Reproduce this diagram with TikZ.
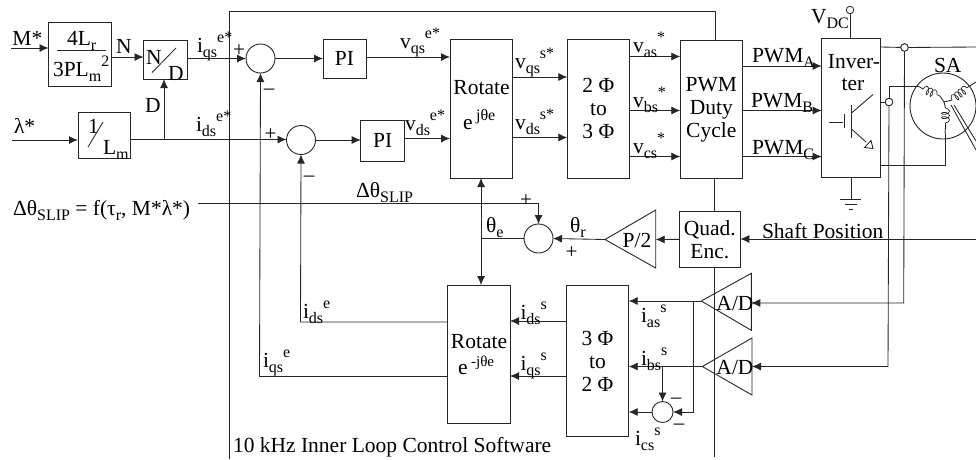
\documentclass[tikz,border=0pt]{standalone}
\usepackage{fontspec}
\setmainfont{Liberation Serif}
\usetikzlibrary{arrows.meta,calc,decorations.pathmorphing}
\newcommand\lsub[1]{\raisebox{-5pt}{\fontsize{16}{16}\selectfont #1}}
\newcommand\lsup[1]{\raisebox{10pt}{\fontsize{16}{16}\selectfont #1}}
\tikzset{
 x=1pt,y=-1pt,
 wire/.style={line width=0.85pt,draw=black!85},
 arr/.style={wire,-{Latex[length=9pt,width=8pt]}},
 blk/.style={draw=black!85,line width=0.9pt,inner sep=0pt,outer sep=0pt,align=center,font=\fontsize{21.5}{23}\selectfont},
 sumr/.style={circle,draw=black!85,line width=0.9pt,minimum size=29pt,inner sep=0pt,outer sep=0pt},
 term/.style={circle,draw=black!85,line width=0.8pt,fill=white,minimum size=7.5pt,inner sep=0pt,outer sep=0pt},
 lab/.style={inner sep=0pt,outer sep=0pt,anchor=base west,font=\fontsize{21.5}{23}\selectfont},
 sgn/.style={inner sep=0pt,font=\fontsize{21}{21}\selectfont},
 coilw/.style={wire,line width=0.7pt,decorate,decoration={coil,aspect=0.5,segment length=4.4pt,amplitude=4pt}},
}
\begin{document}
\begin{tikzpicture}
\useasboundingbox (0,0) rectangle (976,459);
% frame
\coordinate (fbl) at (229,459);
\coordinate (ftl) at (229,11.5);
\coordinate (ftr) at (715,11.5);
% blocks
\node[blk,minimum width=62.5,minimum height=64] (gain) at (79.75,54) {};
\node[blk,minimum width=43.5,minimum height=38.5] (nd) at (165.25,59.75) {};
\node[blk,minimum width=52,minimum height=46.5] (ol) at (104,135.25) {};
\node[blk,minimum width=43,minimum height=39] (pia) at (344.5,58.5) {PI};
\node[blk,minimum width=44,minimum height=40.5] (pib) at (382.7,140.75) {PI};
\node[blk,minimum width=62.5,minimum height=138.5] (rota) at (481.25,108.75) {};
\node[blk,minimum width=62.2,minimum height=138.5] (ttt) at (598.4,108.75) {2 Φ\\to\\3 Φ};
\node[blk,minimum width=62,minimum height=138] (pwm) at (711.3,109.5) {PWM\\Duty\\Cycle};
\node[blk,minimum width=59,minimum height=139] (inv) at (851.2,107.5) {};
\node[blk,minimum width=61,minimum height=56.7] (quad) at (709.8,239.35) {Quad.\\Enc.};
\node[blk,minimum width=62.3,minimum height=138.7] (rotb) at (478.85,354.35) {};
\node[blk,minimum width=62.4,minimum height=151.4] (tth) at (597.5,361) {3 Φ\\to\\2 Φ};
% summers
\node[sumr] (sa) at (260.5,58.5) {};
\node[sumr] (sb) at (301,140) {};
\node[sumr] (sc) at (538.5,238.5) {};
\node[sumr,minimum size=21pt] (sd) at (662.5,412) {};
% triangles
\coordinate (ptip) at (605,239.5); \coordinate (pr) at (655.7,239.5);
\draw[blk] (ptip) -- (655.7,210) -- (655.7,268) -- cycle;
\node[lab,anchor=center] (pl) at (637,240) {P/2};
\coordinate (atip) at (701.3,301); \coordinate (ar) at (751.3,303);
\draw[blk] (atip) -- (751.3,273.3) -- (751.3,330.3) -- cycle;
\node[lab,anchor=center] (al) at (735,303) {A/D};
\coordinate (btip) at (702.3,366.5); \coordinate (br) at (752,366.5);
\draw[blk] (btip) -- (752,338) -- (752,395) -- cycle;
\node[lab,anchor=center] (bl) at (735,367) {A/D};
% frame wires
\draw[wire] (fbl) -- (ftl) -- (ftr) -- (pwm.north -| ftr);
\draw[wire] (pwm.south -| quad.north) ++(4.5,0) -- ++(0,32);
\coordinate (qbot) at (714.5,457);
\draw[wire] (quad.south -| qbot) -- (qbot);
% inputs
\coordinate (mi) at (11,48);\coordinate (li) at (12,140);
\draw[arr] (mi) -- (mi -| gain.west);
\draw[arr] (gain.east |- 0,57) -- (nd.west |- 0,57);
\draw[arr] (nd.east |- 0,58.5) -- (sa.west);
\draw[arr] (li) -- (li -| ol.west);
\draw[arr] (ol.east |- 0,139.5) -- (sb.west |- 0,139.5);
\draw[arr] (164,139.5) -- (nd.south -| 164,0);
\draw[arr] (sa.east) -- (pia.west);
\draw[arr] (pia.east |- 0,57) -- (rota.west |- 0,57);
\draw[arr] (sb.east) -- (pib.west |- sb.east);
\draw[arr] (pib.east |- 0,138.5) -- (rota.west |- 0,138.5);
\draw[arr] (rota.east |- 0,77) -- (ttt.west |- 0,77);
\draw[arr] (rota.east |- 0,137.5) -- (ttt.west |- 0,137.5);
\draw[arr] (ttt.east |- 0,56.5) -- (pwm.west |- 0,56.5);
\draw[arr] (ttt.east |- 0,110.5) -- (pwm.west |- 0,110.5);
\draw[arr] (ttt.east |- 0,156.5) -- (pwm.west |- 0,156.5);
\draw[arr] (pwm.east |- 0,66) -- (inv.west |- 0,66);
\draw[arr] (pwm.east |- 0,110.5) -- (inv.west |- 0,110.5);
\draw[arr] (pwm.east |- 0,156.5) -- (inv.west |- 0,156.5);
% feedback
\draw[arr] (rotb.west |- 0,376.5) -- (259.5,376.5) -- (sa.south);
\draw[arr] (rotb.west |- 0,322) -- (300.5,322) -- (sb.south);
\draw[arr] (198,203) -- (538.5,203) -- (sc.north);
\draw[arr] (sc.west -| 481,0) -- (481,0 |- rota.south);
\draw[arr] (sc.west -| 481,0) -- (481,0 |- rotb.north);
\draw[wire] (sc.west) -- (481,238.5);
\draw[arr] (ptip) -- (sc.east);
\draw[arr] (quad.west) -- (pr);
\coordinate (sp) at (976,239);
\draw[arr] (sp) -- (quad.east |- sp);
\draw[arr] (tth.west |- 0,321) -- (rotb.east |- 0,321);
\draw[arr] (tth.west |- 0,376) -- (rotb.east |- 0,376);
\draw[arr] (atip) -- (tth.east |- atip);
\draw[arr] (btip) -- (tth.east |- btip);
\draw[arr] (693.3,301) -- (693.3,412) -- (sd.east);
\draw[arr] (sd.north |- btip) -- (sd.north);
\draw[arr] (sd.west) -- (tth.east |- sd.west);
\draw[wire] (inv.east |- 0,102) -- (889,102);
% right side
\node[term] (vdc) at (850,10) {};
\draw[wire] (vdc) -- (inv.north -| vdc);
\coordinate (gnd) at (851,199);
\draw[wire] (inv.south -| gnd) -- (gnd);
\draw[wire] (840,199) -- (861,199) (845,204) -- (857,204) (849,209) -- (853,209);
\draw[wire] (829,122) -- (843,122);
\draw[line width=1pt,draw=black!85] (844,114) -- (844,128);
\draw[line width=1pt,draw=black!85] (851.5,105) -- (851.5,138);
\draw[wire] (851.5,113) -- (873,94.5) (851.5,129) -- (866,142);
\draw[wire,fill=white] (873,148.5) -- (864.5,147.5) -- (871,140.5) -- cycle;
\node[term] (ta) at (904.5,47.5) {};
\node[term] (tb) at (889,102) {};
\draw[wire] (inv.east |- 0,47) -- (ta) -- (976,47);
\draw[arr] (ta) -- (903.7,303) -- (ar -| 751.3,0);
\draw[arr] (tb) -- (888,366.5) -- (br);
\node[term] at (904.5,47.5) {};
\node[term] at (889,102) {};
\draw[wire] (tb) -- (889,86) -- (918,86);
\draw[wire] (inv.east |- 0,165) -- (945,165) -- (945,133);
% motor
\node[circle,draw=black!85,line width=0.9pt,minimum size=66pt,inner sep=0pt,outer sep=0pt] (mot) at (943,106) {};
\draw[wire] (918,86) -- (923,89);
\draw[coilw] (923,89) -- (940,96);
\draw[wire] (940,96) -- (944,102) -- (952,100);
\draw[coilw] (952,100) -- (968,87);
\draw[wire] (968,87) -- (976,82);
\draw[wire] (944,102) -- (945.5,108);
\draw[coilw] (945.5,108) -- (945.5,127);
\draw[wire] (945.5,127) -- (945,133);
\draw[wire] (951,105) -- (976,150) (954,105) -- (976,141);
% text
\node[lab] (tm) at (12.5,45) {M*};
\node[lab] (tl) at (14,133) {λ*};
\node[lab] (t4l) at (67,45) {4L\lsub{r}};
\draw[wire] (57,50.7) -- (106,50.7);
\node[lab] (t3p) at (53,76) {3PL\lsub{m}\lsup{2}};
\node[lab] (tn) at (116,53) {N};
\node[lab] (tdd) at (146,64) {N};
\node[lab] (tdn) at (168,80.5) {D};
\draw[wire] (152,72.6) -- (176,48);
\node[lab] (td) at (145,112) {D};
\node[lab] (t1) at (88,133) {1};
\draw[wire] (88,147) -- (103,122);
\node[lab] (tlm) at (103,154) {L\lsub{m}};
\node[lab] (i1) at (197,52) {i\lsub{qs}\lsup{e*}};
\node[lab] (i2) at (196,131) {i\lsub{ds}\lsup{e*}};
\node[lab] (v1) at (400,48) {v\lsub{qs}\lsup{e*}};
\node[lab] (v2) at (405,130) {v\lsub{ds}\lsup{e*}};
\node[lab] (v3) at (515,68) {v\lsub{qs}\lsup{s*}};
\node[lab] (v4) at (515,129) {v\lsub{ds}\lsup{s*}};
\node[lab] (v5) at (633,52) {v\lsub{as}\lsup{*}};
\node[lab] (v6) at (633,107) {v\lsub{bs}\lsup{*}};
\node[lab] (v7) at (633,153) {v\lsub{cs}\lsup{*}};
\node[lab,anchor=center] (rt) at (481.5,88) {Rotate};
\node[lab] (re) at (463,129) {e\,\raisebox{9pt}{\fontsize{16}{16}\selectfont jθe}};
\node[lab,anchor=center] (rt2) at (479,342) {Rotate};
\node[lab] (re2) at (458,374) {e\,\raisebox{8pt}{\fontsize{15}{15}\selectfont -jθe}};
\node[lab] (p1) at (752,62) {PWM\lsub{A}};
\node[lab] (p2) at (751,107.5) {PWM\lsub{B}};
\node[lab] (p3) at (752,154) {PWM\lsub{C}};
\node[lab] (vd) at (811,23) {V\lsub{DC}};
\node[lab,anchor=center] (inv1) at (854,62) {Inver-};
\node[lab,anchor=center] (inv2) at (853,85) {ter};
\node[lab] (sat) at (934,72) {SA};
\node[lab] (slip) at (13,215) {Δθ\lsub{SLIP} = f(τ\lsub{r}, M*λ*)};
\node[lab] (slip2) at (356,197) {Δθ\lsub{SLIP}};
\node[lab] (te) at (486,232.5) {θ\lsub{e}};
\node[lab] (tr) at (570,232.5) {θ\lsub{r}};
\node[lab] (ss) at (762,238) {Shaft Position};
\node[lab] (ids) at (303,318) {i\lsub{ds}\lsup{e}};
\node[lab] (iqs) at (263,367) {i\lsub{qs}\lsup{e}};
\node[lab] (ids2) at (520.5,319) {i\lsub{ds}\lsup{s}};
\node[lab] (iqs2) at (520.5,370) {i\lsub{qs}\lsup{s}};
\node[lab] (ias) at (641,322) {i\lsub{as}\lsup{s}};
\node[lab] (ibs) at (641,365) {i\lsub{bs}\lsup{s}};
\node[lab] (ics) at (635,445) {i\lsub{cs}\lsup{s}};
\node[lab] (sw) at (233,452) {10 kHz Inner Loop Control Software};
% signs
\node[sgn] (s1) at (239,51) {+};
\node[sgn] (s2) at (269,92) {--};
\node[sgn] (s3) at (270.5,135) {+};
\node[sgn] (s4) at (309,179) {--};
\node[sgn] (s5) at (526,201) {+};
\node[sgn] (s6) at (571.5,253) {+};
\node[sgn] (s7) at (676,401) {--};
\node[sgn] (s8) at (679,427) {--};
\end{tikzpicture}
\end{document}
